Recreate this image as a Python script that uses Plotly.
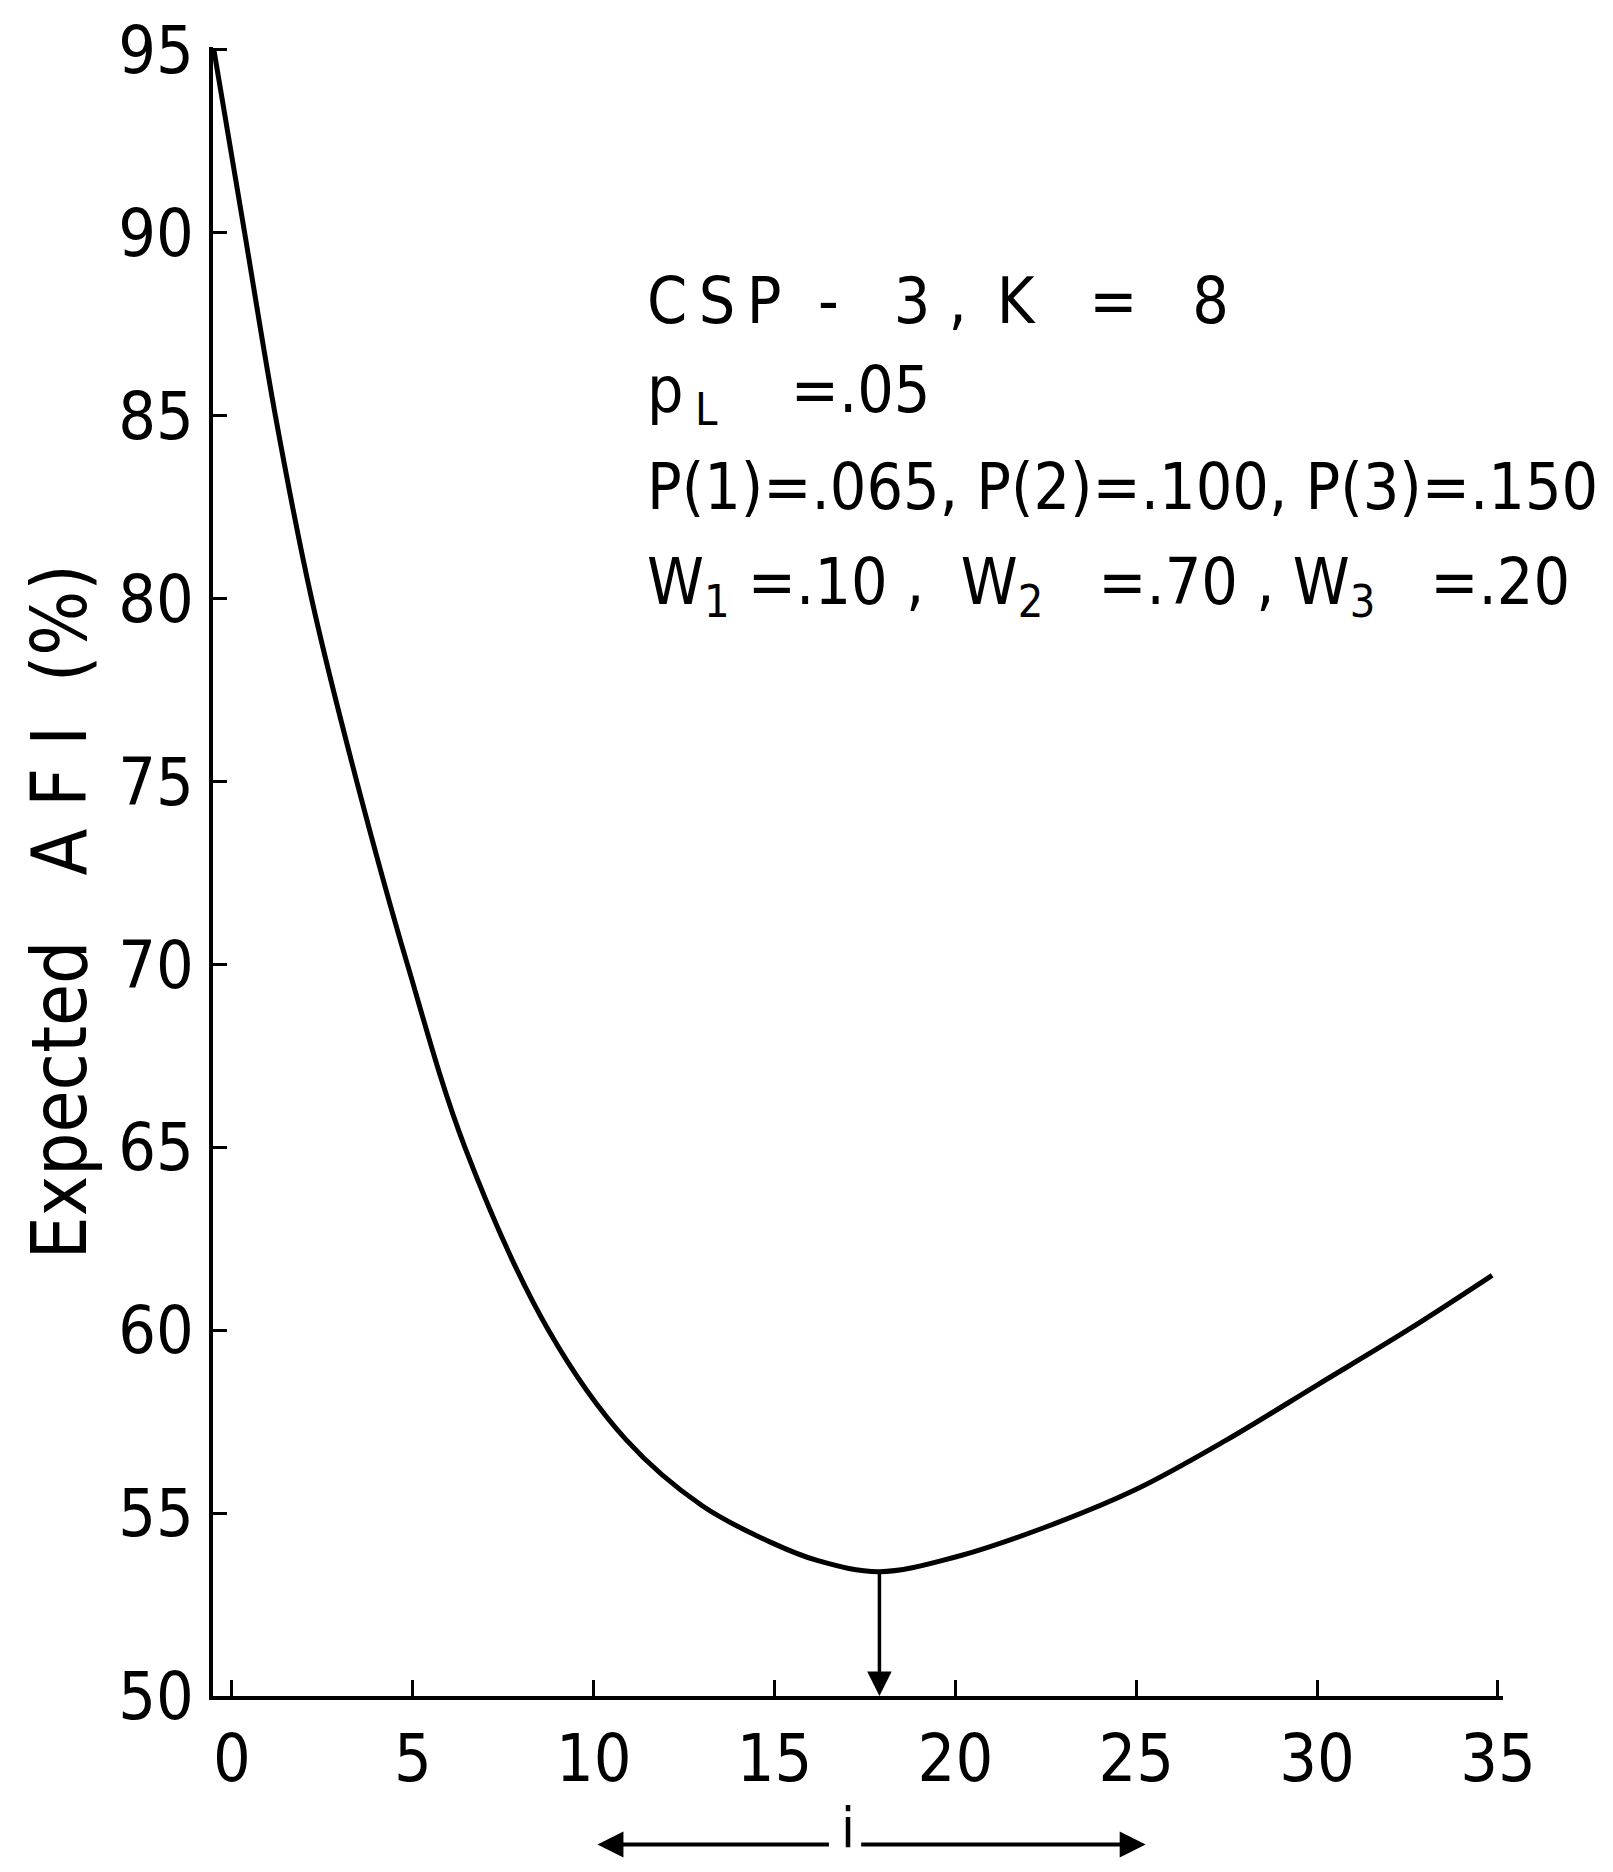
import plotly.graph_objects as go

# ---- data ----
i_values = [-0.5, 0.35, 1.2, 2.2, 3.45, 4.85, 6.44, 8.75, 10.9, 13.0, 14.9, 16.2,
            17.9, 20.0, 22.5, 25.0, 27.5, 30.0, 32.5, 34.84]
afi_values = [95.0, 90.0, 85.0, 80.0, 75.0, 70.0, 65.0, 60.0, 57.0, 55.2, 54.2, 53.7,
              53.4, 53.8, 54.62, 55.65, 57.0, 58.5, 60.0, 61.5]
x_ticks = [0, 5, 10, 15, 20, 25, 30, 35]
y_ticks = [50, 55, 60, 65, 70, 75, 80, 85, 90, 95]
NB = "\u00a0"
TH = "\u2009"
info_lines = [
    f"C{TH}S{TH}P{NB}{NB}-{NB}{NB}{NB}3{NB},{NB}{TH}K{NB}{NB}{NB}={NB}{NB}{NB}8",
    f"p{TH}<sub>L</sub>{NB}{NB}{NB}{NB}=.05",
    f"P(1)=.065,{NB}P(2)=.100,{NB}P(3)=.150",
    (f"W<sub>1</sub>{NB}=.10{NB},{NB}{NB}W<sub>2</sub>{NB}{NB}{NB}=.70{NB},{NB}"
     f"W<sub>3</sub>{NB}{NB}{NB}=.20"),
]
y_title = f"Expected{NB}{NB}{NB}A{NB}F{NB}I{NB}{NB}(%)"
x_title = "i"

FONT = "DejaVu Sans Condensed, Liberation Sans Narrow, DejaVu Sans, Arial"

fig = go.Figure()
fig.add_trace(go.Scatter(
    x=i_values, y=afi_values, mode="lines",
    line=dict(color="black", width=5, shape="spline", smoothing=1.0),
    showlegend=False, hoverinfo="skip",
))

# arrow from the minimum down to the axis
k_min = min(range(len(afi_values)), key=lambda k: afi_values[k])
fig.add_annotation(
    x=i_values[k_min], y=y_ticks[0], ax=i_values[k_min], ay=afi_values[k_min],
    xref="x", yref="y", axref="x", ayref="y",
    showarrow=True, arrowhead=2, arrowsize=1.4, arrowwidth=3.5, arrowcolor="black", text="",
)

# info text block
line_y = [0.846, 0.789, 0.733, 0.673]
for txt, yy in zip(info_lines, line_y):
    fig.add_annotation(
        x=0.335, y=yy, xref="paper", yref="paper", xanchor="left", yanchor="middle",
        text=txt, showarrow=False, font=dict(family=FONT, size=64, color="black"),
    )

# y-axis title
fig.add_annotation(
    x=-0.119, y=0.476, xref="paper", yref="paper", xanchor="center", yanchor="middle",
    text=y_title, textangle=-90, showarrow=False,
    font=dict(family=FONT, size=76, color="black"),
)

# x-axis title with arrows
fig.add_annotation(
    x=0.492, y=-0.080, xref="paper", yref="paper", xanchor="center", yanchor="middle",
    text=x_title, showarrow=False, font=dict(family=FONT, size=56, color="black"),
)
fig.add_annotation(
    x=0.298, y=-0.090, xref="paper", yref="paper", ax=233, ay=0,
    showarrow=True, arrowhead=2, arrowsize=1.3, arrowwidth=4, arrowcolor="black", text="",
)
fig.add_annotation(
    x=0.723, y=-0.090, xref="paper", yref="paper", ax=-286, ay=0,
    showarrow=True, arrowhead=2, arrowsize=1.3, arrowwidth=4, arrowcolor="black", text="",
)

fig.update_layout(
    width=1613, height=1872,
    margin=dict(l=213, r=110, t=21, b=176),
    paper_bgcolor="white", plot_bgcolor="white",
    font=dict(family=FONT, color="black"),
    xaxis=dict(
        range=[-0.525, 35.14], tickvals=x_ticks, ticktext=[str(v) for v in x_ticks],
        showgrid=False, zeroline=False, showline=True, linecolor="black", linewidth=4,
        ticks="inside", ticklen=16, tickwidth=3, tickcolor="black",
        tickfont=dict(family=FONT, size=66, color="black"), ticklabelstandoff=2,
        ticklabeloverflow="allow",
    ),
    yaxis=dict(
        range=[50, 95.08], tickvals=y_ticks, ticktext=[str(v) for v in y_ticks],
        showgrid=False, zeroline=False, showline=True, linecolor="black", linewidth=4,
        ticks="inside", ticklen=14, tickwidth=3, tickcolor="black",
        tickfont=dict(family=FONT, size=66, color="black"), ticklabelstandoff=2,
        ticklabeloverflow="allow",
    ),
)

fig.write_html("out.html")
